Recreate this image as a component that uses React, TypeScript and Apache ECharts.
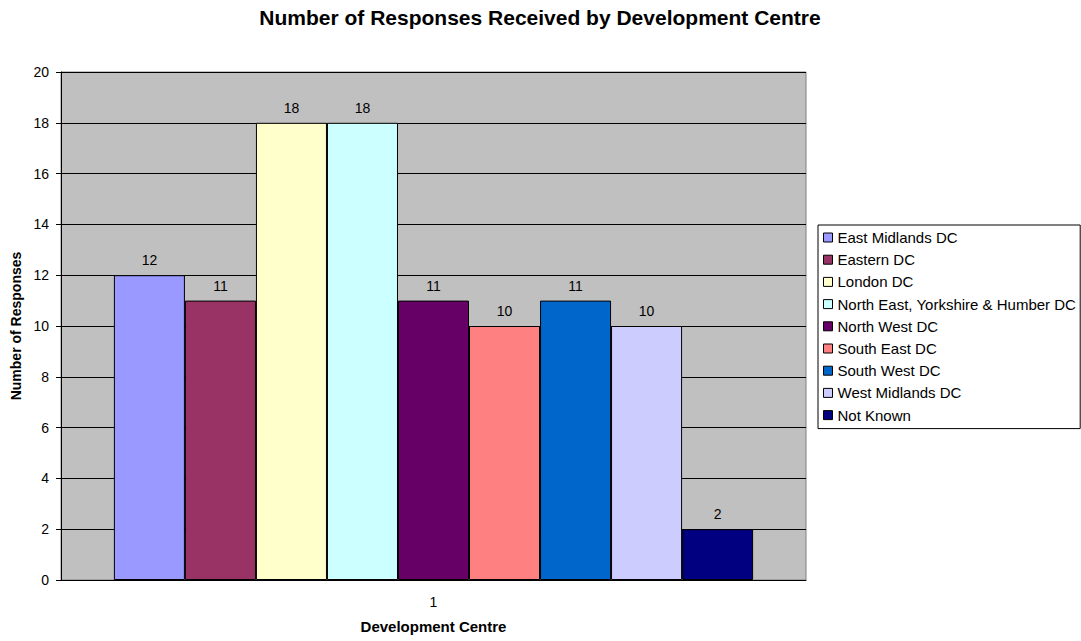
import React, { useEffect, useRef } from "react";
import * as echarts from "echarts";

const categories = ["1"];
const seriesNames = [
  "East Midlands DC",
  "Eastern DC",
  "London DC",
  "North East, Yorkshire & Humber DC",
  "North West DC",
  "South East DC",
  "South West DC",
  "West Midlands DC",
  "Not Known",
];
const seriesValues = [12, 11, 18, 18, 11, 10, 11, 10, 2];
const seriesColors = [
  "#9999FF",
  "#993366",
  "#FFFFCC",
  "#CCFFFF",
  "#660066",
  "#FF8080",
  "#0066CC",
  "#CCCCFF",
  "#000080",
];

const FONT = "'Liberation Sans', Arial, sans-serif";

export default function App() {
  const ref = useRef<HTMLDivElement>(null);
  useEffect(() => {
    const chart = echarts.init(ref.current!, null, { renderer: "svg" });
    chart.setOption({
      animation: false,
      textStyle: { fontFamily: FONT },
      title: {
        text: "Number of Responses Received by Development Centre",
        left: 540,
        textAlign: "center",
        top: 6,
        padding: 0,
        textStyle: { fontSize: 21, fontWeight: "bold", color: "#000", fontFamily: FONT, lineHeight: 22 },
      },
      legend: {
        orient: "vertical",
        left: 818,
        top: 225,
        padding: [5, 4, 6, 5],
        borderColor: "#000",
        borderWidth: 1,
        itemWidth: 9,
        itemHeight: 9,
        itemGap: 7.2,
        icon: "rect",
        data: seriesNames,
        itemStyle: { borderColor: "#000", borderWidth: 1 },
        textStyle: { fontSize: 15, color: "#000", fontFamily: FONT },
      },
      grid: {
        left: 61,
        right: 275,
        top: 72,
        bottom: 61,
        show: true,
        backgroundColor: "#C0C0C0",
        borderColor: "#808080",
        borderWidth: 1,
      },
      xAxis: {
        type: "category",
        data: categories,
        name: "Development Centre",
        nameLocation: "middle",
        nameGap: 39,
        nameTextStyle: { fontSize: 15, fontWeight: "bold", color: "#000", fontFamily: FONT },
        axisLine: { lineStyle: { color: "#000" } },
        axisTick: { show: false },
        axisLabel: { fontSize: 14, color: "#000", margin: 15 },
      },
      yAxis: {
        type: "value",
        min: 0,
        max: 20,
        interval: 2,
        name: "Number of Responses",
        nameLocation: "middle",
        nameGap: 37,
        nameTextStyle: { fontSize: 14, fontWeight: "bold", color: "#000", fontFamily: FONT },
        axisLine: { show: true, lineStyle: { color: "#000" } },
        axisTick: { show: true, inside: false, length: 5, lineStyle: { color: "#000" } },
        axisLabel: { fontSize: 14, color: "#000", margin: 12 },
        splitLine: { lineStyle: { color: "#000", width: 1 } },
      },
      series: seriesNames.map((name, i) => ({
        name,
        type: "bar",
        data: [seriesValues[i]],
        barGap: "0%",
        barCategoryGap: "14.2%",
        itemStyle: { color: seriesColors[i], borderColor: "#000", borderWidth: 1 },
        label: {
          show: true,
          position: "top",
          distance: 8,
          fontSize: 14,
          color: "#000",
          fontFamily: FONT,
        },
      })),
    });
    return () => chart.dispose();
  }, []);
  return <div ref={ref} style={{ width: 1081, height: 641, position: "absolute", left: 0, top: 0 }} />;
}
